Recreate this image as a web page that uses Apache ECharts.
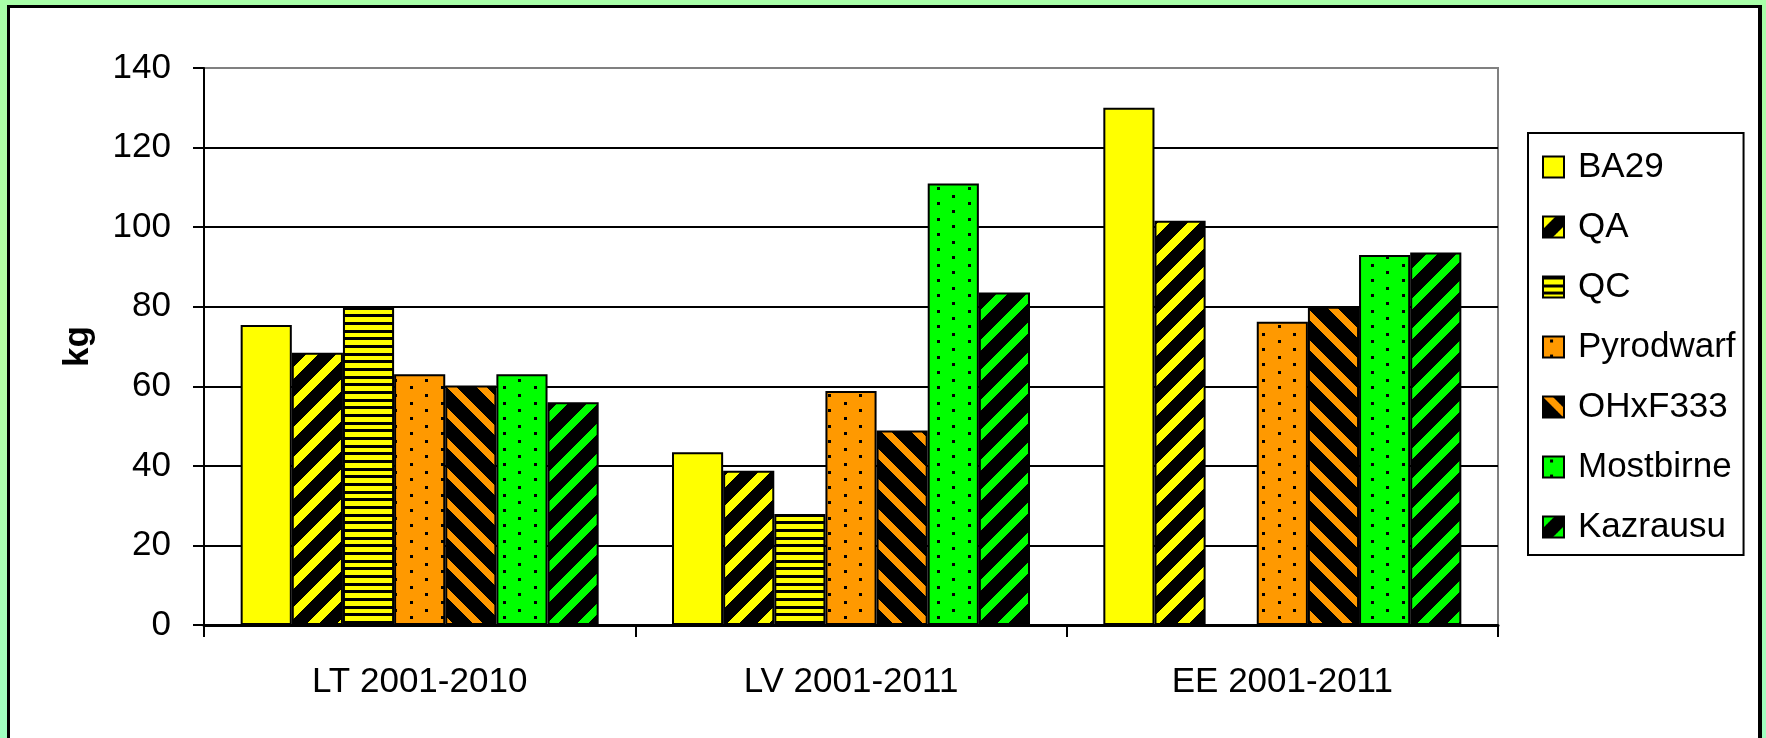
<!DOCTYPE html>
<html>
<head>
<meta charset="utf-8">
<script src="https://cdn.jsdelivr.net/npm/echarts@6/dist/echarts.min.js"></script>
<style>
  html, body { margin: 0; padding: 0; }
  body { width: 1766px; height: 738px; overflow: hidden; position: relative;
         background: linear-gradient(to bottom, #a8ffa8 0%, #b6ffa2 45%, #a0ffc0 100%); }
  #panel { position: absolute; left: 7px; top: 5px; width: 1755px; height: 800px; box-sizing: border-box;
           background: #fff; border-left: 3px solid #000; border-top: 3px solid #000; border-right: 4px solid #000; }
  #chart { position: absolute; left: 0; top: 0; width: 1766px; height: 738px; }
</style>
</head>
<body>
<div id="panel"></div>
<div id="chart"></div>
<script>
// ---- data ----
const categories = ['LT 2001-2010', 'LV 2001-2011', 'EE 2001-2011'];
const seriesNames = ['BA29', 'QA', 'QC', 'Pyrodwarf', 'OHxF333', 'Mostbirne', 'Kazrausu'];
const BA29      = [75.4, 43.4, 130.0];
const QA        = [68.4, 38.8, 101.6];
const QC        = [80.0, 27.9, null];
const Pyrodwarf = [63.0, 58.8, 76.2];
const OHxF333   = [60.2, 48.9, 80.0];
const Mostbirne = [63.0, 111.0, 93.0];
const Kazrausu  = [56.0, 83.6, 93.6];
const yMin = 0, yMax = 140, yStep = 20;

// ---- patterns ----
function solid(c) { return c; }
function stripes(bg, fg, period, width, dir) {
  const c = document.createElement('canvas');
  c.width = period; c.height = period;
  const ctx = c.getContext('2d');
  ctx.fillStyle = bg; ctx.fillRect(0, 0, period, period);
  ctx.fillStyle = fg;
  for (let y = 0; y < period; y++) {
    for (let x = 0; x < period; x++) {
      const k = dir > 0 ? (x + y) : (x - y + period * 2);
      if (k % period < width) ctx.fillRect(x, y, 1, 1);
    }
  }
  return { image: c, repeat: 'repeat' };
}
function hlines(bg, fg) {
  const c = document.createElement('canvas');
  c.width = 10; c.height = 23;
  const ctx = c.getContext('2d');
  ctx.fillStyle = bg; ctx.fillRect(0, 0, 10, 23);
  ctx.fillStyle = fg;
  [0, 8, 15].forEach(function (r) { ctx.fillRect(0, r, 10, 3); });
  return { image: c, repeat: 'repeat' };
}
function dots(bg, fg) {
  const c = document.createElement('canvas');
  c.width = 31; c.height = 46;
  const ctx = c.getContext('2d');
  ctx.fillStyle = bg; ctx.fillRect(0, 0, 31, 46);
  ctx.fillStyle = fg;
  [[0, 0], [0, 15], [0, 31], [15, 8], [15, 23], [15, 38]].forEach(function (p) {
    ctx.fillRect(p[0] + 7, p[1] + 3, 3, 3);
  });
  return { image: c, repeat: 'repeat' };
}

const fills = [
  solid('#ffff00'),
  stripes('#000000', '#ffff00', 30, 12, 1),
  hlines('#ffff00', '#000000'),
  dots('#ff9900', '#000000'),
  stripes('#000000', '#ff9900', 30, 10, -1),
  dots('#00ff00', '#000000'),
  stripes('#000000', '#00ff00', 30, 11, 1)
];
const values = [BA29, QA, QC, Pyrodwarf, OHxF333, Mostbirne, Kazrausu];

const FONT = '"Liberation Sans", Arial, sans-serif';

const chart = echarts.init(document.getElementById('chart'), null, { renderer: 'canvas' });
chart.setOption({
  backgroundColor: 'transparent',
  animation: false,
  textStyle: { fontFamily: FONT },
  grid: {
    left: 204, right: 268, top: 68, bottom: 113,
    show: true, borderColor: '#808080', borderWidth: 2, backgroundColor: 'transparent'
  },
  legend: {
    orient: 'vertical',
    left: 1528, top: 133,
    padding: [16, 8, 10, 14],
    itemGap: 24,
    itemWidth: 30, itemHeight: 21,
    icon: 'path://M0,0h21v21h-21zM30,0',
    borderColor: '#000', borderWidth: 2,
    backgroundColor: '#fff',
    itemStyle: { borderColor: '#000', borderWidth: 2 },
    textStyle: { fontSize: 35, color: '#000', fontFamily: FONT, lineHeight: 36 },
    data: seriesNames
  },
  xAxis: {
    type: 'category',
    data: categories,
    axisLine: { lineStyle: { color: '#000', width: 3 } },
    axisTick: { show: true, alignWithLabel: false, length: 12, lineStyle: { color: '#000', width: 2 } },
    axisLabel: { fontSize: 35, color: '#000', margin: 40, fontFamily: FONT },
    splitLine: { show: false }
  },
  yAxis: {
    type: 'value',
    min: yMin, max: yMax, interval: yStep,
    name: 'kg',
    nameLocation: 'middle',
    nameRotate: 90,
    nameGap: 108,
    nameTextStyle: { fontSize: 35, fontWeight: 'bold', color: '#000', fontFamily: FONT },
    axisLine: { show: true, lineStyle: { color: '#000', width: 2 } },
    axisTick: { show: true, length: 11, lineStyle: { color: '#000', width: 2 } },
    axisLabel: { fontSize: 35, color: '#000', margin: 33, fontFamily: FONT },
    splitLine: { show: true, lineStyle: { color: ['#000', '#000', '#000', '#000', '#000', '#000', '#000', '#808080'], width: 2 } }
  },
  series: seriesNames.map(function (name, i) {
    return {
      name: name,
      type: 'bar',
      data: values[i],
      barGap: '0%',
      barCategoryGap: '17%',
      itemStyle: { color: fills[i], borderColor: '#000', borderWidth: 2 },
      emphasis: { disabled: true }
    };
  })
});
</script>
</body>
</html>
